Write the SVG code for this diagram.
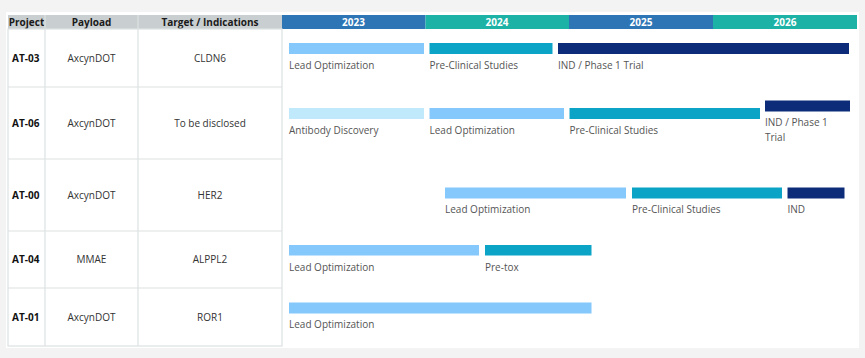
<svg xmlns="http://www.w3.org/2000/svg" width="865" height="358" viewBox="0 0 865 358">
<style>
.hdr{font-family:"Open Sans","Noto Sans","DejaVu Sans",sans-serif;font-size:10px;font-weight:bold;fill:#1a1a1a;text-anchor:middle}
.yr{font-family:"Open Sans","Noto Sans","DejaVu Sans",sans-serif;font-size:10px;font-weight:bold;fill:#ffffff;text-anchor:middle}
.cell{font-family:"Open Sans","Noto Sans","DejaVu Sans",sans-serif;font-size:10px;fill:#333333;text-anchor:middle}
.pid{font-family:"Open Sans","Noto Sans","DejaVu Sans",sans-serif;font-size:10px;font-weight:bold;fill:#111111}
.lbl{font-family:"Open Sans","Noto Sans","DejaVu Sans",sans-serif;font-size:10px;fill:#555555}
.grid{stroke:#dde2e2;stroke-width:1.2;fill:none}
.lo{fill:#85c8fb}
.pc{fill:#0ba4c7}
.ind{fill:#0c2c7a}
.ab{fill:#c0eafb}
</style>
<rect x="0" y="0" width="865" height="358" fill="#f3f3f3"/>
<rect x="6" y="12" width="853" height="336" fill="#ffffff"/>
<g id="header">
<rect x="8" y="15" width="274" height="14" fill="#c9ced0"/>
<rect x="282" y="15" width="143.5" height="14" fill="#2e75b6"/>
<rect x="425.5" y="15" width="143.5" height="14" fill="#1cb2a6"/>
<rect x="569" y="15" width="144" height="14" fill="#2e75b6"/>
<rect x="713" y="15" width="144" height="14" fill="#1cb2a6"/>
<text class="hdr" x="26.5" y="25.8">Project</text>
<text class="hdr" x="91.5" y="25.8">Payload</text>
<text class="hdr" x="210" y="25.8">Target / Indications</text>
<text class="yr" x="353.5" y="25.8">2023</text>
<text class="yr" x="497" y="25.8">2024</text>
<text class="yr" x="641" y="25.8">2025</text>
<text class="yr" x="785" y="25.8">2026</text>
</g>
<g id="table-grid" class="grid">
<rect x="8" y="29" width="274" height="317"/>
<line x1="45" y1="15" x2="45" y2="346"/>
<line x1="138" y1="15" x2="138" y2="346"/>
<line x1="8" y1="87" x2="282" y2="87"/>
<line x1="8" y1="159" x2="282" y2="159"/>
<line x1="8" y1="231" x2="282" y2="231"/>
<line x1="8" y1="288" x2="282" y2="288"/>
</g>
<g id="row-AT-03">
<text class="pid" x="12" y="62">AT-03</text>
<text class="cell" x="91.5" y="62">AxcynDOT</text>
<text class="cell" x="210" y="62">CLDN6</text>
<rect class="lo" x="289" y="43" width="135" height="11"/>
<rect class="pc" x="429.5" y="43" width="123" height="11"/>
<rect class="ind" x="558" y="43" width="291" height="11"/>
<text class="lbl" x="289" y="69">Lead Optimization</text>
<text class="lbl" x="429.5" y="69">Pre-Clinical Studies</text>
<text class="lbl" x="558" y="69">IND / Phase 1 Trial</text>
</g>
<g id="row-AT-06">
<text class="pid" x="12" y="127">AT-06</text>
<text class="cell" x="91.5" y="127">AxcynDOT</text>
<text class="cell" x="210" y="127">To be disclosed</text>
<rect class="ab" x="289" y="108" width="135" height="11"/>
<rect class="lo" x="429.5" y="108" width="134.5" height="11"/>
<rect class="pc" x="569.5" y="108" width="190.5" height="11"/>
<rect class="ind" x="765" y="100.5" width="85" height="11"/>
<text class="lbl" x="289" y="134">Antibody Discovery</text>
<text class="lbl" x="429.5" y="134">Lead Optimization</text>
<text class="lbl" x="569.5" y="134">Pre-Clinical Studies</text>
<text class="lbl" x="765" y="126">IND / Phase 1</text>
<text class="lbl" x="765" y="141">Trial</text>
</g>
<g id="row-AT-00">
<text class="pid" x="12" y="199">AT-00</text>
<text class="cell" x="91.5" y="199">AxcynDOT</text>
<text class="cell" x="210" y="199">HER2</text>
<rect class="lo" x="445" y="187.5" width="181" height="11"/>
<rect class="pc" x="632" y="187.5" width="150" height="11"/>
<rect class="ind" x="787.5" y="187.5" width="57" height="11"/>
<text class="lbl" x="445" y="213">Lead Optimization</text>
<text class="lbl" x="632" y="213">Pre-Clinical Studies</text>
<text class="lbl" x="787.5" y="213">IND</text>
</g>
<g id="row-AT-04">
<text class="pid" x="12" y="263">AT-04</text>
<text class="cell" x="91.5" y="263">MMAE</text>
<text class="cell" x="210" y="263">ALPPL2</text>
<rect class="lo" x="289" y="245" width="190" height="10.5"/>
<rect class="pc" x="485" y="245" width="106.5" height="10.5"/>
<text class="lbl" x="289" y="271">Lead Optimization</text>
<text class="lbl" x="485" y="271">Pre-tox</text>
</g>
<g id="row-AT-01">
<text class="pid" x="12" y="321">AT-01</text>
<text class="cell" x="91.5" y="321">AxcynDOT</text>
<text class="cell" x="210" y="321">ROR1</text>
<rect class="lo" x="289" y="302.5" width="302.5" height="11"/>
<text class="lbl" x="289" y="328">Lead Optimization</text>
</g>
<g id="connectors"></g>
</svg>
